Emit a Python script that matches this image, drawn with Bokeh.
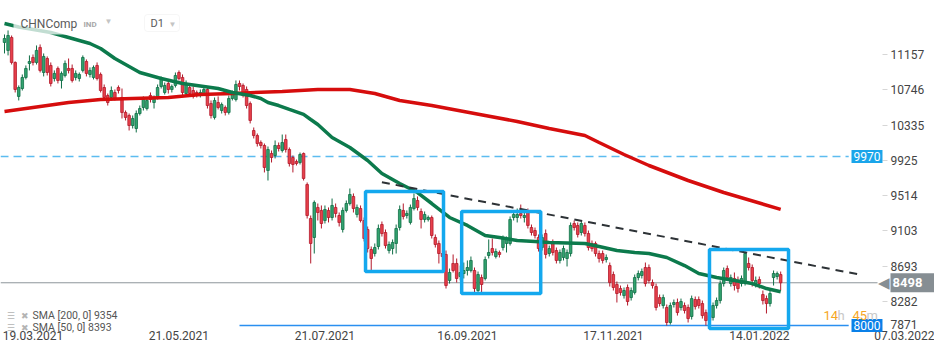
from bokeh.plotting import figure
from bokeh.models import (ColumnDataSource, Range1d, FixedTicker, Label, BoxAnnotation, LinearAxis)
from bokeh.embed import file_html
from bokeh.resources import INLINE

# ---------------- data ----------------
opens = [11299,11206,11357,11066,10670,10762,10891,11054,11124,11066,11241,10949,11112,11031,10879,10996,10856,10914,10996,10996,
         10891,10879,10973,11077,10926,10891,11031,10926,10774,10681,10658,10716,10774,10658,10483,10448,10331,10296,10471,10541,
         10529,10681,10599,10658,10786,10716,10821,10751,10798,10949,10891,10704,10774,10739,10716,10681,10704,10751,10587,10425,
         10599,10506,10541,10483,10646,10634,10821,10798,10751,10587,10273,10214,10133,10098,9807,10005,9981,10098,10040,10168,
         10051,9958,9912,9900,10005,9643,9247,9026,9376,9341,9224,9341,9259,9376,9282,9119,9341,9422,9504,9294,
         9364,9224,9119,8886,8839,8921,9177,9084,8874,8897,8956,9142,9341,9282,9201,9364,9457,9329,9236,9236,
         9259,9026,8956,8839,8828,8525,8723,8723,8571,8606,8641,8641,8641,8408,8559,8548,8816,8897,8804,8851,
         8909,8956,8956,9259,9259,9306,9259,9329,9142,9107,9026,8909,9072,8839,8968,8874,8758,8793,8781,8839,
         9189,9166,9084,9166,9072,8956,8956,8839,8839,8769,8699,8594,8478,8431,8349,8443,8326,8384,8559,8583,
         8676,8676,8501,8454,8326,8233,8210,8035,8245,8268,8210,8233,8210,8105,8303,8303,8256,8151,8116,8093,
         8233,8291,8489,8664,8489,8548,8525,8489,8501,8723,8676,8489,8536,8361,8314,8256,8559,8571,8594]
highs = [11392,11439,11380,11078,10798,10926,11031,11148,11159,11264,11276,11171,11136,11066,10973,11019,10961,11089,11112,11042,
         10973,10949,11148,11101,11008,11031,11066,10949,10809,10704,10786,10751,10798,10762,10506,10471,10448,10506,10564,10670,
         10658,10716,10681,10809,10903,10832,10856,10809,10949,10973,10926,10856,10809,10786,10739,10751,10786,10774,10623,10658,
         10670,10599,10564,10681,10739,10856,10856,10821,10786,10611,10308,10238,10157,10121,10086,10040,10157,10133,10226,10226,
         10075,9981,9935,10016,10016,9667,9282,9457,9422,9399,9399,9376,9480,9422,9317,9376,9457,9597,9539,9410,
         9399,9259,9154,8921,8956,9177,9212,9119,8979,9003,9177,9399,9422,9341,9410,9539,9504,9364,9329,9282,
         9282,9061,8991,8874,8874,8664,8828,8781,8699,8734,8758,8804,8676,8629,8594,8804,9003,9014,8897,8874,
         9049,9037,9271,9341,9364,9410,9341,9364,9177,9142,9061,9061,9119,8932,9003,8909,8886,8932,8886,9201,
         9224,9201,9224,9201,9107,8991,8979,8874,8874,8828,8734,8629,8513,8466,8443,8478,8443,8594,8641,8664,
         8734,8711,8536,8489,8361,8361,8245,8268,8303,8314,8314,8268,8245,8349,8338,8338,8291,8186,8151,8268,
         8326,8525,8676,8699,8594,8618,8571,8583,8862,8793,8711,8571,8571,8408,8349,8408,8641,8629,8629]
lows = [11171,11148,11042,10716,10623,10739,10868,10973,11031,11042,10949,10903,10914,10786,10844,10821,10762,10891,10938,10832,
        10856,10844,10949,10903,10891,10868,10856,10716,10634,10564,10623,10623,10704,10413,10390,10273,10296,10250,10448,10506,
        10506,10599,10529,10634,10762,10692,10704,10716,10774,10856,10681,10681,10670,10646,10658,10658,10681,10529,10413,10401,
        10518,10471,10448,10459,10623,10611,10739,10658,10529,10355,10180,10086,10063,9784,9690,9900,9947,10028,10016,10016,
        9853,9784,9865,9877,9690,9247,8723,8839,9224,9131,9189,9201,9224,9259,9154,9084,9317,9399,9317,9259,
        9201,8979,8851,8641,8804,8886,9037,8897,8839,8828,8839,9107,9236,9247,9177,9341,9341,9131,9201,9212,
        9014,8909,8723,8758,8431,8489,8618,8501,8525,8548,8583,8618,8384,8361,8373,8525,8781,8816,8781,8793,
        8874,8851,8932,9224,9201,9247,9201,9131,9049,9014,8862,8874,8781,8804,8816,8723,8723,8758,8688,8804,
        9107,9026,9049,9037,8874,8862,8804,8734,8723,8734,8454,8408,8268,8349,8314,8233,8291,8361,8525,8548,
        8454,8489,8431,8175,8221,8198,8000,8011,8210,8116,8175,8140,8035,8070,8186,8198,8081,8000,8023,8058,
        8198,8256,8454,8525,8454,8408,8384,8454,8466,8641,8454,8443,8431,8245,8140,8221,8466,8536,8408]
closes = [11345,11380,11066,10751,10774,10891,10996,11077,11066,11206,10973,11136,10949,10821,10938,10856,10938,11054,10973,10856,
          10938,10926,11124,10938,10973,11008,10879,10739,10658,10599,10739,10646,10739,10483,10425,10331,10413,10471,10529,10634,
          10623,10634,10658,10774,10868,10798,10751,10786,10914,10879,10716,10821,10704,10670,10692,10716,10751,10564,10448,10623,
          10541,10576,10483,10646,10704,10809,10786,10681,10564,10390,10214,10121,10098,9842,10051,9958,10098,10063,10133,10051,
          9888,9877,9888,9993,9714,9282,8956,9434,9317,9189,9352,9259,9399,9306,9201,9341,9422,9527,9364,9376,
          9224,9014,8897,8781,8909,9131,9072,8932,8944,8968,9131,9352,9271,9306,9376,9480,9376,9236,9294,9259,
          9049,8944,8839,8804,8466,8618,8641,8548,8618,8641,8676,8758,8431,8594,8478,8769,8851,8851,8862,8828,
          9014,9014,9236,9294,9294,9282,9282,9166,9084,9049,8897,9026,8828,8897,8851,8758,8851,8897,8851,9166,
          9142,9061,9189,9072,8909,8897,8839,8781,8758,8793,8501,8443,8373,8384,8408,8280,8408,8559,8606,8629,
          8489,8525,8466,8210,8256,8326,8035,8233,8268,8151,8280,8175,8081,8314,8221,8233,8116,8058,8058,8233,
          8291,8489,8641,8559,8559,8466,8431,8548,8839,8676,8525,8525,8489,8291,8256,8373,8606,8606,8498]

# simple moving averages as drawn (candle index, value)
sma50_idx = [0,4,13,18,24,27,31,38,44,50,60,64,69,72,74,77,80,84,86,88,92,97,102,106,111,116,120,125,130,135,139,144,149,153,163,167,172,177,181,186,191,195,200,205,210,214,218]
sma50_val = [11520,11480,11415,11357,11287,11229,11112,10949,10879,10821,10763,10716,10681,10646,10599,10564,10518,10460,10401,10343,10191,10075,9923,9772,9655,9550,9422,9259,9166,9049,9026,8991,8979,8968,8956,8921,8874,8851,8839,8793,8699,8606,8559,8525,8489,8431,8393]
sma200_idx = [0,8,18,27,36,46,55,64,78,88,97,104,111,120,135,144,153,163,167,174,181,192,202,218]
sma200_val = [10495,10541,10599,10634,10646,10658,10693,10704,10728,10751,10751,10704,10623,10565,10448,10378,10296,10215,10133,9993,9865,9690,9550,9354]

# axis ticks
y_ticks = [11157, 10746, 10335, 9925, 9514, 9103, 8693, 8282, 7871]
date_idx = [0, 41, 82, 122, 163, 204, 245]
date_lbl = ["19.03.2021", "21.05.2021", "21.07.2021", "16.09.2021", "17.11.2021", "14.01.2022", "07.03.2022"]

# drawn objects
resistance = 9970
support = 8000
support_from_idx = 66
last_price = 8498
trend_idx = [106, 240]
trend_val = [9670, 8595]
box_left = [101.4, 128.4, 198.0]
box_right = [123.3, 150.6, 220.2]
box_top = [9562, 9329, 8886]
box_bottom = [8629, 8373, 7965]
sma200_last = 9354
sma50_last = 8393

# ---------------- figure ----------------
FONT = "Roboto"
W, H = 934, 345
X0, X1 = -1.124, 261.2          # candle-index range across the whole canvas
Y0, Y1 = 7767, 11788            # price range across the whole canvas
AXIS_X = 246.6                  # where the price scale sits
AXIS_Y = 7945                   # where the date scale sits
LINE_END = 237.1                # level lines end under their price boxes
LAST_END = 245.2

N = len(closes)
xs = list(range(N))
up = [c >= o for o, c in zip(opens, closes)]
src = ColumnDataSource(dict(
    x=xs, o=opens, h=highs, l=lows, c=closes,
    top=[max(o, c) for o, c in zip(opens, closes)],
    bot=[min(o, c) for o, c in zip(opens, closes)],
    fill=["#33a36f" if u else "#e8414b" for u in up],
    line=["#0f6e46" if u else "#b3182a" for u in up],
))

p = figure(width=W, height=H, x_range=Range1d(X0, X1), y_range=Range1d(Y0, Y1),
           x_axis_location=None, y_axis_location=None, output_backend="svg", toolbar_location=None,
           min_border_left=0, min_border_top=0, min_border_right=0, min_border_bottom=0)
p.outline_line_color = None
p.grid.visible = False
p.background_fill_color = "white"

# price axis (the lowest value is shown clamped above the date scale, as in the source)
yax = LinearAxis(ticker=FixedTicker(ticks=y_ticks[:-1]), fixed_location=AXIS_X)
yax.major_label_overrides = {t: str(t) for t in y_ticks[:-1]}
yax.axis_line_color = None
yax.major_tick_line_color = "#d6d6d6"
yax.major_tick_out = 5
yax.major_tick_in = 0
yax.minor_tick_line_color = None
yax.major_label_standoff = 3
yax.major_label_text_font = FONT
yax.major_label_text_font_size = "12px"
yax.major_label_text_color = "#444444"
p.add_layout(yax, "right")

# date axis (labels sit to the right of their date)
shift = 8
xt = [d + shift for d in date_idx]
xax = LinearAxis(ticker=FixedTicker(ticks=xt), fixed_location=AXIS_Y)
xax.major_label_overrides = {t: lbl for t, lbl in zip(xt, date_lbl)}
xax.axis_line_color = None
xax.major_tick_line_color = None
xax.major_tick_out = 0
xax.major_tick_in = 0
xax.minor_tick_line_color = None
xax.major_label_standoff = 1
xax.major_label_text_font = FONT
xax.major_label_text_font_size = "12px"
xax.major_label_text_color = "#444444"
p.add_layout(xax, "below")

# horizontal levels
p.segment(x0=[X0], y0=[resistance], x1=[LINE_END], y1=[resistance], line_color="#5cbcf0", line_width=1.5, line_dash="8 5")
p.segment(x0=[X0], y0=[last_price], x1=[LAST_END], y1=[last_price], line_color="#8d959a", line_width=1)
p.segment(x0=[support_from_idx], y0=[support], x1=[LINE_END], y1=[support], line_color="#2a8ff0", line_width=1.5)

# candles
p.segment(x0="x", y0="h", x1="x", y1="l", line_color="line", line_width=1, source=src)
p.vbar(x="x", width=0.72, top="top", bottom="bot", fill_color="fill", line_color="line", line_width=0.8, source=src)

# moving averages
p.line(sma200_idx, sma200_val, line_color="#d60d0d", line_width=3.5)
p.line(sma50_idx, sma50_val, line_color="#0c7a4c", line_width=3.5)

# trend line
p.line(trend_idx, trend_val, line_color="#2d3236", line_width=2, line_dash="8 6")

# boxes
p.quad(left=box_left, right=box_right, top=box_top, bottom=box_bottom,
       fill_alpha=0, line_color="#14a8ee", line_width=3.5)

# ---------------- annotations (screen coords: from left, from bottom) ----------------
def lab(text, x, y, color="#555555", size="11px", style="normal", align="left", yu="screen", **kw):
    p.add_layout(Label(text=text, x=x, y=y, x_units="screen", y_units=yu, text_color=color,
                       text_font=FONT, text_font_size=size, text_font_style=style,
                       text_align=align, text_baseline="middle", **kw))

def sbox(left, right, top, bottom, **kw):
    p.add_layout(BoxAnnotation(left=left, right=right, top=top, bottom=bottom, left_units="screen",
                               right_units="screen", top_units="screen", bottom_units="screen", **kw))

# header
sbox(13, 120, 335, 311, fill_color="white", fill_alpha=0.75, line_color=None)
lab("CHNComp", 20, 322, color="#5a5a5a", size="12px")
lab("IND", 83, 321, color="#a8a8a8", size="8px", style="bold")
lab("\u25BC", 104, 324, color="#c4c4c4", size="8px")
sbox(144, 179, 331, 314, fill_color="white", fill_alpha=1, line_color="#e0e0e0", line_width=1, border_radius=3)
lab("D1", 150, 322, color="#5a5a5a", size="11px")
lab("\u25BC", 168, 321, color="#c4c4c4", size="8px")

# price boxes
lab(str(resistance), 851, resistance, color="white", size="12px", yu="data",
    background_fill_color="#1aa5ea", padding=2)
lab(str(support), 851, support, color="white", size="12px", yu="data",
    background_fill_color="#0a80e8", padding=2)
lab("\u25C0", 889, last_price, color="#868e93", size="15px", yu="data", align="right")
lab(str(last_price) + "\u00a0\u00a0\u00a0\u00a0", 890, last_price, color="white", size="13px", yu="data",
    style="bold", background_fill_color="#868e93", padding=2)
lab(str(y_ticks[-1]), 890, 21, color="#444444", size="12px")

# countdown
lab("14", 823, 30, color="#f5a623", size="13px")
lab("h", 837, 30, color="#c8c8c8", size="13px")
lab("45", 852, 30, color="#f5a623", size="13px")
lab("m", 866, 30, color="#c8c8c8", size="13px")

# indicator legend
for yy, txt in [(30, "SMA [200,  0] %d" % sma200_last), (18, "SMA [50,  0] %d" % sma50_last)]:
    lab("\u2630", 6, yy, color="#b4b4b4", size="9px")
    lab("\u2716", 20, yy, color="#b4b4b4", size="9px")
    lab(txt, 32, yy, color="#555555", size="10.5px")

open("out.html", "w").write(file_html(p, INLINE))
